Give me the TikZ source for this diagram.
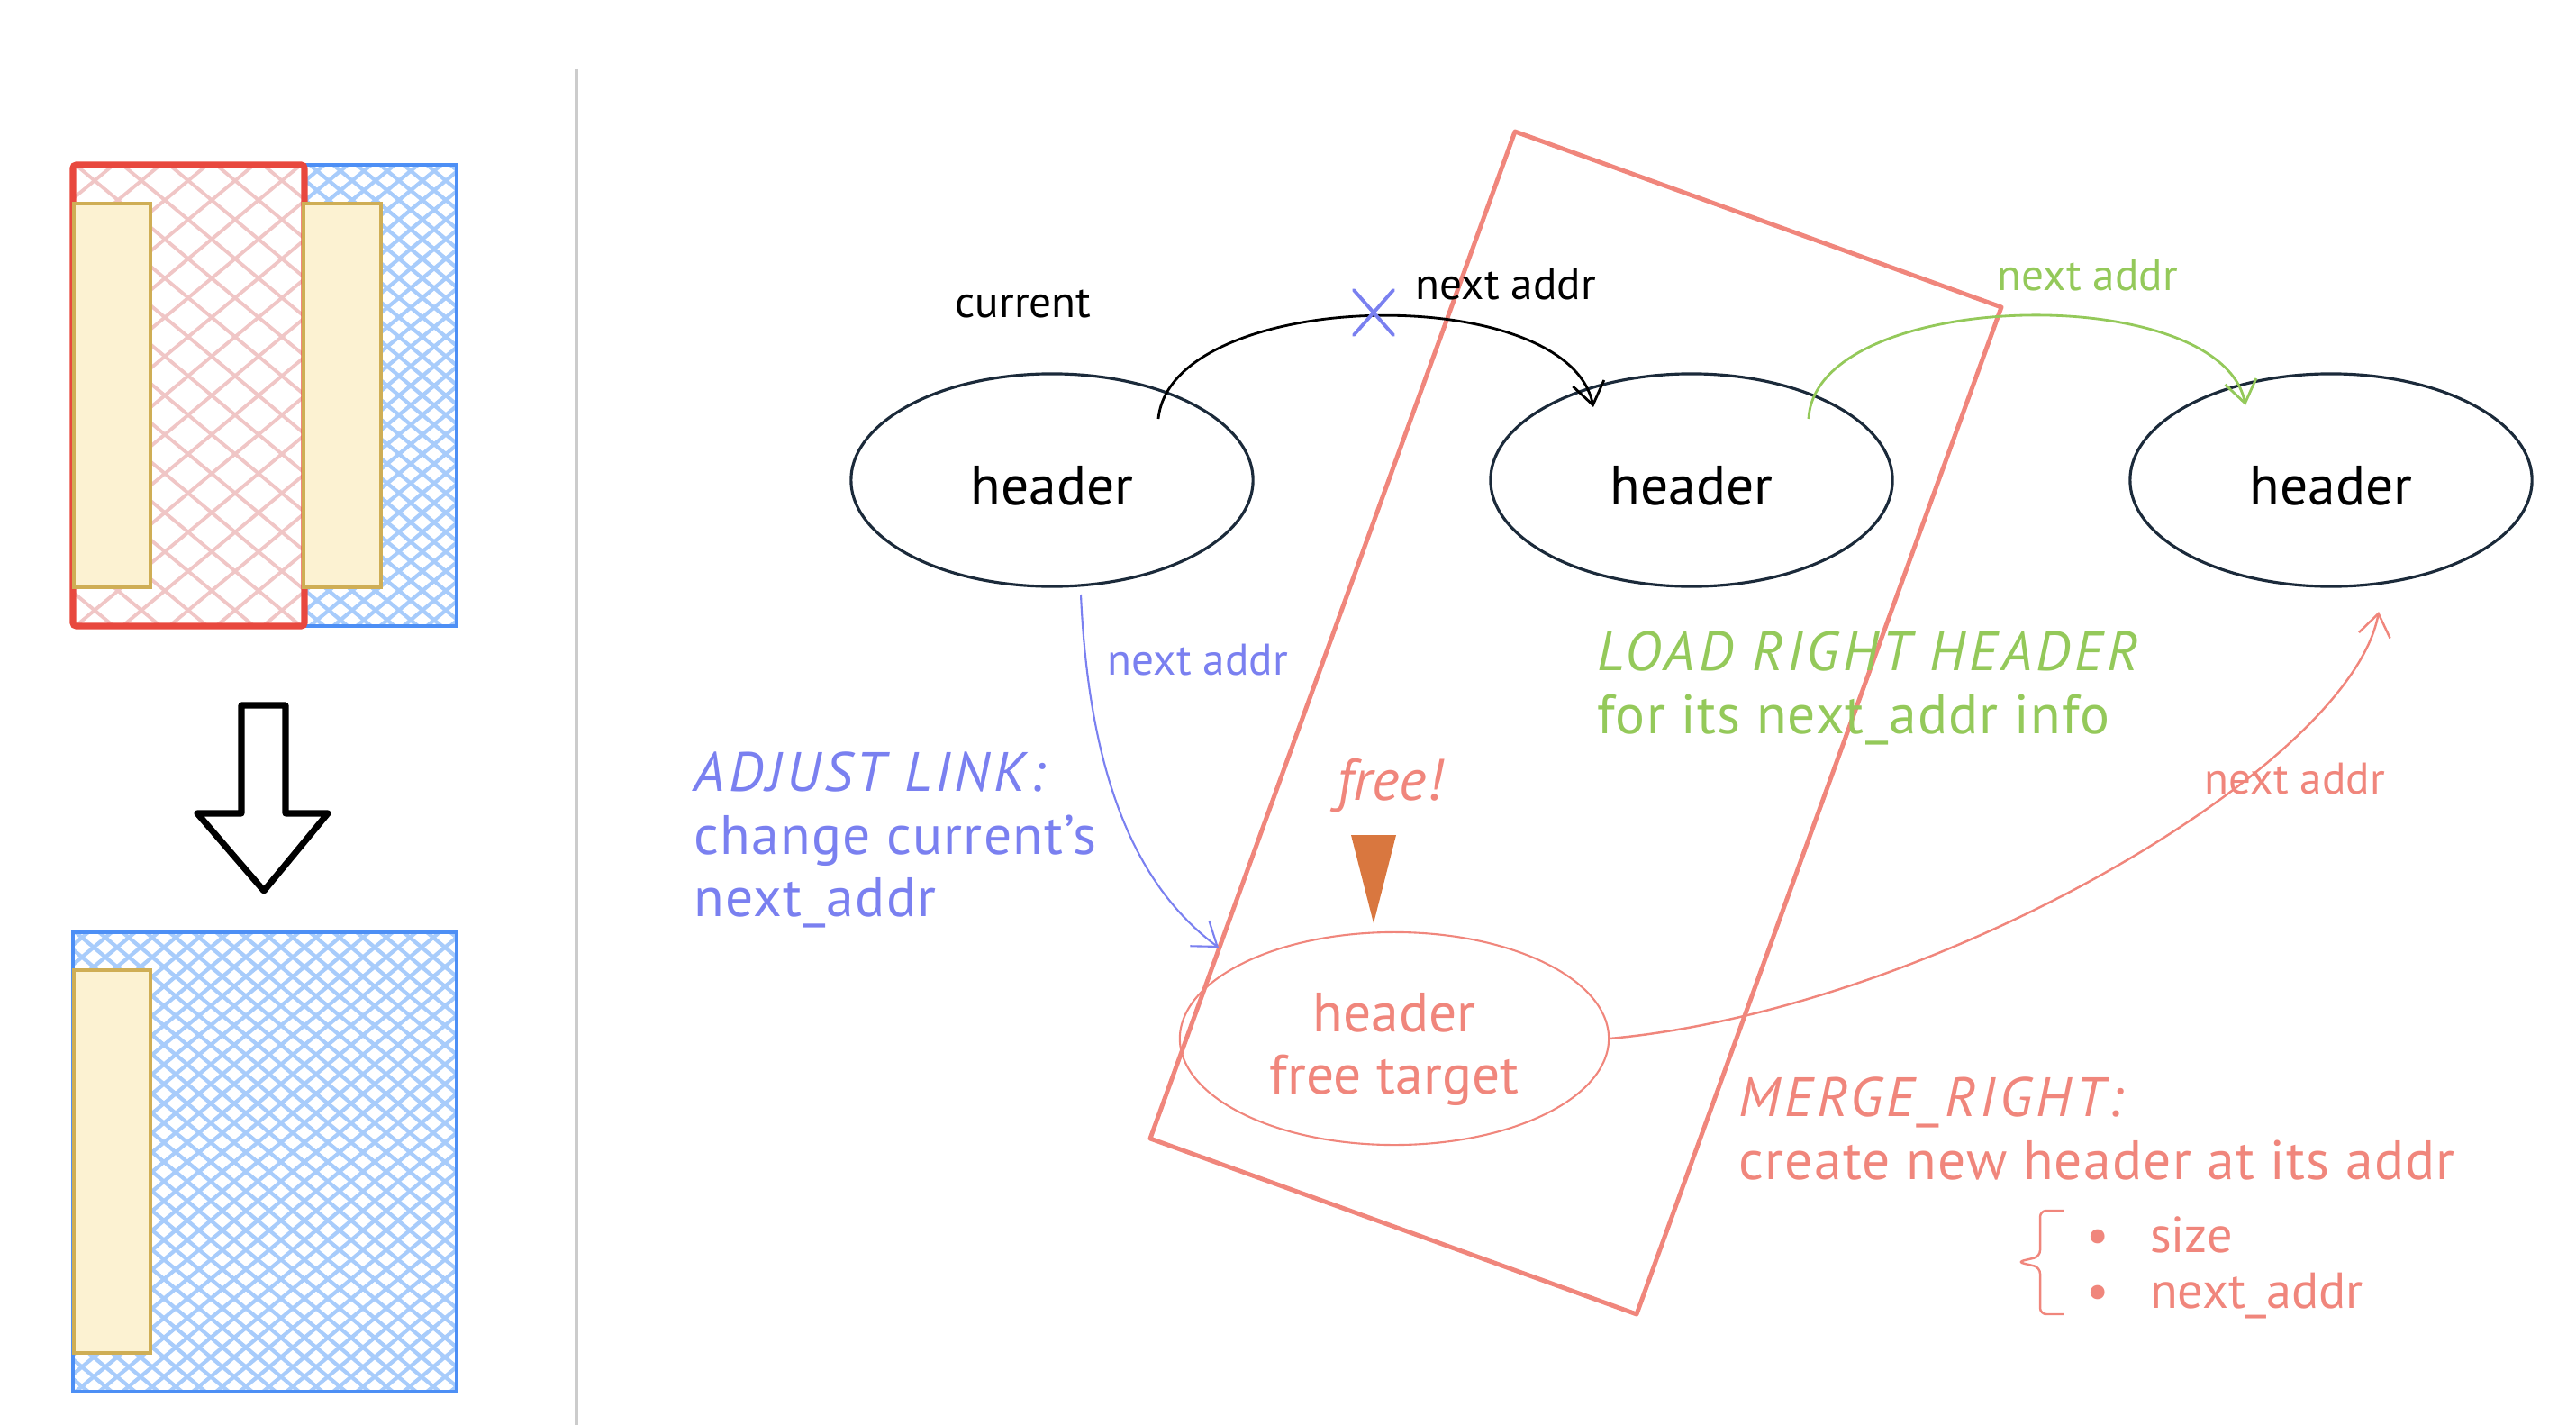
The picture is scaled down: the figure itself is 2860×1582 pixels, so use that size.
\documentclass[tikz,border=0pt]{standalone}
\usepackage{fontspec}
\setmainfont{PT Sans}
\usetikzlibrary{arrows.meta,shapes.geometric}

\definecolor{navy}{HTML}{1B2A3A}
\definecolor{salmon}{HTML}{F0867C}
\definecolor{linkblue}{HTML}{7A80F0}
\definecolor{loadgreen}{HTML}{94C95A}
\definecolor{wedge}{HTML}{D9773F}
\definecolor{blockred}{HTML}{E8483E}
\definecolor{blockblue}{HTML}{4D8FF5}
\definecolor{hatchblue}{HTML}{A8CCFB}
\definecolor{hatchpink}{HTML}{F0C6C6}
\definecolor{padfill}{HTML}{FCF2D2}
\definecolor{paddraw}{HTML}{CFAE55}
\definecolor{sepgray}{HTML}{CCCCCC}

\begin{document}
\begin{tikzpicture}[x=0.01cm, y=-0.01cm,
  oval/.style={ellipse, draw=navy, line width=0.9pt, inner sep=0pt,
               minimum width=4.46cm, minimum height=2.36cm,
               font=\fontsize{17.5}{20}\selectfont},
  hdr/.style={oval, text height=15.4pt, text depth=0pt},
  lbl/.style={font=\fontsize{14}{16}\selectfont, inner sep=0pt},
  big/.style={font=\fontsize{17.5}{19.8}\selectfont\addfontfeatures{LetterSpace=2},
              inner sep=0pt, align=left, anchor=north west},
  caps/.style={},
  ar/.style={-{Straight Barb[length=7pt,width=10pt]}, line width=0.8pt},
  hpink/.style={draw=hatchpink, line width=1.1pt},
  hblue/.style={draw=hatchblue, line width=1.2pt},
  pad/.style={fill=padfill, draw=paddraw, line width=1pt}]

\useasboundingbox (0,0) rectangle (2860,1582);

% left panel, before the merge
\begin{scope}
  \clip (81,183) rectangle (338,695);
  \foreach \i in {-540,-488,...,340} {
    \draw[hpink] (\i,183) -- ++(614,512);
    \draw[hpink] (\i,695) -- ++(614,-512);
  }
\end{scope}
\begin{scope}
  \clip (338,183) rectangle (507,695);
  \foreach \i in {-280,-254,...,510} {
    \draw[hblue] (\i,183) -- ++(614,512);
    \draw[hblue] (\i,695) -- ++(614,-512);
  }
\end{scope}
\draw[blockblue, line width=1.1pt] (338,183) rectangle (507,695);
\draw[blockred, line width=2pt, rounded corners=1pt] (81,183) rectangle (338,695);
\draw[pad] (82,226) rectangle (167,652);
\draw[pad] (337,226) rectangle (423,652);

% hollow arrow
\draw[line width=2pt, line join=round] (268,783) -- (317,783) -- (317,903)
  -- (364,903) -- (293,989) -- (219,903) -- (268,903) -- cycle;

% left panel, after the merge
\begin{scope}
  \clip (81,1035) rectangle (507,1545);
  \foreach \i in {-540,-514,...,510} {
    \draw[hblue] (\i,1035) -- ++(612,510);
    \draw[hblue] (\i,1545) -- ++(612,-510);
  }
\end{scope}
\draw[blockblue, line width=1.1pt] (81,1035) rectangle (507,1545);
\draw[pad] (82,1077) rectangle (167,1502);

\draw[sepgray, line width=1.1pt] (640,77) -- (640,1582);

% free list
\node[hdr] (e1) at (1168,533) {header};
\node[hdr] (e2) at (1878,533) {header};
\node[hdr] (e3) at (2588,533) {header};
\node[oval, draw=salmon, line width=0.6pt, text=salmon, align=center,
      minimum width=4.76cm, font=\fontsize{17.5}{19.6}\selectfont]
     (ft) at (1548,1153) {\rule{0pt}{19pt}header\\free target};

% block being freed
\draw[salmon, line width=1.4pt, line join=round] (1682,146) -- (2222,341)
  -- (1817,1459) -- (1277,1264) -- cycle;

\node[lbl] (cur) at (1136,337) {current};
\draw[ar] ([shift={(118,-68)}]e1.center) .. controls (1300,320) and (1740,310)
  .. ([shift={(-109,-81)}]e2.center);
\node[lbl] (na1) at (1672,316) {next addr};
\draw[linkblue, line width=1.1pt, line cap=round] (1503,322) -- (1547,372)
  (1503,372) -- (1547,322);

\draw[ar, loadgreen] ([shift={(130,-68)}]e2.center) .. controls (2015,320)
  and (2465,310) .. ([shift={(-95,-83)}]e3.center);
\node[lbl, text=loadgreen] (na2) at (2318,306) {next addr};

\draw[ar, linkblue, line width=0.6pt] ([shift={(32,127)}]e1.center)
  .. controls (1210,880) and (1270,990) .. ([shift={(-195,-101)}]ft.center);
\node[lbl, text=linkblue] (na3) at (1330,733) {next addr};

\draw[ar, salmon, line width=0.7pt] (ft.east) .. controls (2150,1120)
  and (2610,850) .. ([shift={(53,146)}]e3.center);
\node[lbl, text=salmon] (na4) at (2548,865) {next addr};

\node[big, text=linkblue] (adj) at (770,834)
     {{\itshape\addfontfeatures{LetterSpace=7}ADJUST LINK:}\\change current's\\next\_addr};
\node[big, text=loadgreen] (load) at (1773,700)
     {{\itshape\addfontfeatures{LetterSpace=7}LOAD RIGHT HEADER}\\for its next\_addr info};
\node[big, text=salmon] (merge) at (1930,1195)
     {{\itshape\addfontfeatures{LetterSpace=7}MERGE\_RIGHT:}\\create new header at its addr};

\node[font=\itshape\fontsize{18.5}{20}\selectfont, text=salmon, inner sep=0pt]
     (free) at (1543,872) {free!};
\fill[wedge] (1500,927) -- (1550,927) -- (1525,1025) -- cycle;

% fields of the new header
\draw[salmon, line width=0.7pt, rounded corners=2pt] (2291,1344) -- (2265,1344)
  -- (2265,1395) -- (2240,1401) -- (2265,1407) -- (2265,1459) -- (2291,1459);
\node[lbl, font=\fontsize{16}{18}\selectfont, text=salmon, anchor=base west]
     (f1) at (2316,1390) {\makebox[20pt][l]{•}size};
\node[lbl, font=\fontsize{16}{18}\selectfont, text=salmon, anchor=base west]
     (f2) at (2316,1452) {\makebox[20pt][l]{•}next\_addr};
\end{tikzpicture}
\end{document}
